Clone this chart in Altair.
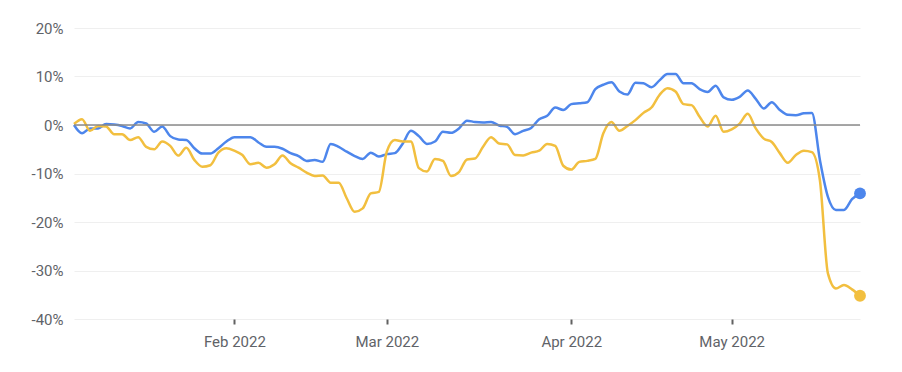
import altair as alt
import pandas as pd

# trading-day index (0 = first trading day of Jan 2022)
blue = [0, -1.7, -0.7, -0.7, 0.2, 0.1, -0.2, -0.7, 0.6, 0.3,
        -1.4, -0.3, -2.3, -3.0, -3.1, -4.8, -5.9, -5.9, -4.8, -3.4,
        -2.5, -2.5, -2.5, -3.6, -4.5, -4.5, -4.9, -5.8, -6.4, -7.4,
        -7.2, -7.6, -3.9, -4.5, -5.5, -6.4, -7.0, -5.7, -6.5, -6.0,
        -5.8, -3.8, -1.2, -2.3, -3.9, -3.4, -1.4, -1.6, -0.7, 0.9,
        0.6, 0.5, 0.6, -0.1, -0.4, -1.9, -1.2, -0.6, 1.2, 1.9,
        3.6, 3.1, 4.3, 4.5, 4.7, 7.4, 8.3, 8.8, 6.9, 6.3,
        8.7, 8.6, 7.8, 9.2, 10.5, 10.5, 8.6, 8.6, 7.4, 6.8,
        8.1, 5.7, 5.2, 5.8, 7.1, 5.4, 3.4, 4.7, 3.1, 2.1,
        2.0, 2.4, 2.5, -7.2, -14.8, -17.5, -17.5, -15.3, -14.1]

yellow = [0.2, 1.2, -1.2, -0.2, -0.3, -1.9, -1.9, -3.1, -2.5, -4.5,
          -5.0, -3.4, -4.3, -6.3, -4.7, -7.2, -8.6, -8.3, -5.7, -4.8,
          -5.3, -6.2, -8.1, -7.8, -8.8, -8.1, -6.3, -7.9, -8.8, -9.8,
          -10.5, -10.4, -11.9, -11.9, -15.1, -17.9, -17.2, -14.1, -13.8, -5.5,
          -3.1, -3.4, -3.4, -8.9, -9.6, -7.0, -7.4, -10.5, -9.7, -7.1,
          -6.9, -4.5, -2.5, -3.8, -4.0, -6.2, -6.3, -5.7, -5.3, -3.9,
          -4.3, -8.4, -9.2, -7.6, -7.4, -7.0, -1.7, 0.6, -1.2, -0.2,
          1.0, 2.5, 3.6, 6.2, 7.6, 6.9, 4.3, 4.1, 1.7, -0.3,
          1.9, -1.4, -0.9, 0.3, 2.3, -0.7, -2.8, -3.5, -5.8, -7.8,
          -6.2, -5.3, -5.6, -11.4, -30.6, -33.7, -33.0, -33.9, -35.2]

series_names = ["Blue", "Yellow"]
series_colors = ["#4D86EC", "#F2BF3F"]

tick_positions = [20, 39, 62, 82]
tick_labels = ["Feb 2022", "Mar 2022", "Apr 2022", "May 2022"]

y_ticks = [20, 10, 0, -10, -20, -30, -40]

rows = []
for i, v in enumerate(blue):
    rows.append({"i": i, "v": v, "s": "Blue"})
for i, v in enumerate(yellow):
    rows.append({"i": i, "v": v, "s": "Yellow"})
df = pd.DataFrame(rows)

last = df[df["i"] == len(blue) - 1]

label_expr = ""
for p, l in zip(tick_positions, tick_labels):
    label_expr += f"datum.value == {p} ? '{l}' : "
label_expr += "''"

FONT = "Roboto"
GRAY = "#5f6368"

xscale = alt.Scale(domain=[0, len(blue) - 1], nice=False, zero=False)
yscale = alt.Scale(domain=[-40, 20], nice=False)
color = alt.Color("s:N", scale=alt.Scale(domain=series_names, range=series_colors), legend=None)

x_enc = alt.X("i:Q", scale=xscale,
              axis=alt.Axis(values=tick_positions, labelExpr=label_expr, grid=False, domain=False,
                            tickSize=5, tickWidth=2, tickColor="#616161", labelPadding=10,
                            labelFontSize=15, labelColor=GRAY, labelFont=FONT, title=None))
y_enc = alt.Y("v:Q", scale=yscale,
              axis=alt.Axis(values=y_ticks, labelExpr="datum.value + '%'", grid=True,
                            gridColor="#efefef", gridWidth=1, domain=False, ticks=False,
                            labelPadding=11, labelFontSize=15, labelColor=GRAY, labelFont=FONT,
                            title=None))

zero_rule = alt.Chart(pd.DataFrame({"z": [0]})).mark_rule(color="#8a8a8a", strokeWidth=1.5).encode(
    y=alt.Y("z:Q", scale=yscale)
)

lines = alt.Chart(df).mark_line(strokeWidth=2.5, interpolate="monotone").encode(
    x=x_enc, y=y_enc, color=color
)

dots = alt.Chart(last).mark_circle(size=140, opacity=1).encode(
    x=alt.X("i:Q", scale=xscale), y=alt.Y("v:Q", scale=yscale), color=color
)

chart = alt.layer(lines, zero_rule, dots).properties(
    width=786, height=291,
    autosize=alt.AutoSizeParams(type="none"),
    padding={"left": 74, "top": 28, "right": 42, "bottom": 53},
).configure_view(stroke=None)

chart.save("out.html", embed_options={"renderer": "svg", "actions": False})
